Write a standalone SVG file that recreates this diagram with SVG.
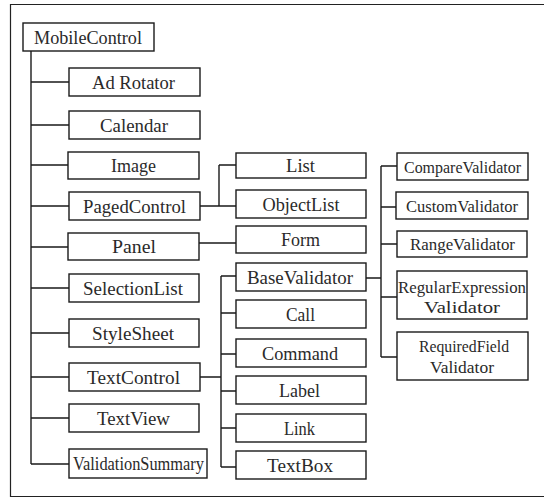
<svg xmlns="http://www.w3.org/2000/svg" width="544" height="498" viewBox="0 0 544 498">
  <style>
    .box { fill: #fff; stroke: #1a1a1a; stroke-width: 1.4; }
    .wire { fill: none; stroke: #1a1a1a; stroke-width: 1.4; }
    .frame { fill: none; stroke: #222; stroke-width: 1.2; }
    .lbl { font-family: 'Liberation Serif', 'Times New Roman', serif; font-size: 18px; font-weight: normal; fill: #2a2a2a; text-anchor: middle; }
    .sm { font-size: 17px; }
  </style>
  <rect width="544" height="498" fill="#fff"/>
  <!-- open frame (top, left, bottom) -->
  <path class="frame" d="M544 4.5 H10.5 V496.5 H544"/>

  <!-- connectors -->
  <g id="connectors">
    <path class="wire" d="M31 51 V464"/>
    <path class="wire" d="M31 82 H69 M31 125 H69 M31 165 H69 M31 206 H69 M31 247 H69 M31 288 H69 M31 333 H69 M31 377 H69 M31 418 H69 M31 464 H69"/>
    <path class="wire" d="M200 206 H219 M219 165 V206 M219 165 H236 M219 206 H236"/>
    <path class="wire" d="M199 243 H236"/>
    <path class="wire" d="M200 377 H221 M221 276 V467 M221 276 H236 M221 313 H236 M221 354 H236 M221 391 H236 M221 428 H236 M221 467 H236"/>
    <path class="wire" d="M366 278 H381 M381 166 V357 M381 166 H397 M381 207 H397 M381 244 H397 M381 297 H397 M381 357 H397"/>
  </g>

  <g id="MobileControl"><rect class="box" x="23" y="23" width="131" height="28"/><text class="lbl" x="88" y="44" textLength="108" lengthAdjust="spacingAndGlyphs">MobileControl</text></g>

  <g id="AdRotator"><rect class="box" x="69" y="68" width="131" height="28"/><text class="lbl" x="133.5" y="89" textLength="83" lengthAdjust="spacingAndGlyphs">Ad Rotator</text></g>
  <g id="Calendar"><rect class="box" x="69" y="111" width="131" height="28"/><text class="lbl" x="134" y="132" textLength="68" lengthAdjust="spacingAndGlyphs">Calendar</text></g>
  <g id="Image"><rect class="box" x="68" y="152" width="131" height="27"/><text class="lbl" x="133.5" y="172" textLength="45" lengthAdjust="spacingAndGlyphs">Image</text></g>
  <g id="PagedControl"><rect class="box" x="69" y="192" width="131" height="28"/><text class="lbl" x="134.5" y="213" textLength="103" lengthAdjust="spacingAndGlyphs">PagedControl</text></g>
  <g id="Panel"><rect class="box" x="68" y="233" width="131" height="27"/><text class="lbl" x="134" y="253" textLength="44" lengthAdjust="spacingAndGlyphs">Panel</text></g>
  <g id="SelectionList"><rect class="box" x="69" y="274" width="130" height="28"/><text class="lbl" x="133" y="295" textLength="100" lengthAdjust="spacingAndGlyphs">SelectionList</text></g>
  <g id="StyleSheet"><rect class="box" x="69" y="319" width="130" height="28"/><text class="lbl" x="133" y="340" textLength="82" lengthAdjust="spacingAndGlyphs">StyleSheet</text></g>
  <g id="TextControl"><rect class="box" x="69" y="363" width="131" height="28"/><text class="lbl" x="133.5" y="384" textLength="93" lengthAdjust="spacingAndGlyphs">TextControl</text></g>
  <g id="TextView"><rect class="box" x="69" y="404" width="130" height="28"/><text class="lbl" x="133.5" y="425" textLength="73" lengthAdjust="spacingAndGlyphs">TextView</text></g>
  <g id="ValidationSummary"><rect class="box" x="69" y="449" width="138" height="29"/><text class="lbl" x="138.5" y="470" textLength="131" lengthAdjust="spacingAndGlyphs">ValidationSummary</text></g>

  <g id="List"><rect class="box" x="236" y="153" width="130" height="25"/><text class="lbl" x="300.5" y="172" textLength="29" lengthAdjust="spacingAndGlyphs">List</text></g>
  <g id="ObjectList"><rect class="box" x="236" y="190" width="130" height="28"/><text class="lbl" x="301" y="211" textLength="77" lengthAdjust="spacingAndGlyphs">ObjectList</text></g>
  <g id="Form"><rect class="box" x="236" y="226" width="130" height="27"/><text class="lbl" x="300.5" y="246" textLength="39" lengthAdjust="spacingAndGlyphs">Form</text></g>
  <g id="BaseValidator"><rect class="box" x="236" y="263" width="130" height="28"/><text class="lbl" x="300" y="284" textLength="106" lengthAdjust="spacingAndGlyphs">BaseValidator</text></g>
  <g id="Call"><rect class="box" x="236" y="300" width="130" height="28"/><text class="lbl" x="300.5" y="321" textLength="29" lengthAdjust="spacingAndGlyphs">Call</text></g>
  <g id="Command"><rect class="box" x="236" y="339" width="130" height="28"/><text class="lbl" x="300" y="360" textLength="76" lengthAdjust="spacingAndGlyphs">Command</text></g>
  <g id="Label"><rect class="box" x="236" y="376" width="130" height="28"/><text class="lbl" x="299.5" y="397" textLength="41" lengthAdjust="spacingAndGlyphs">Label</text></g>
  <g id="Link"><rect class="box" x="236" y="414" width="130" height="28"/><text class="lbl" x="299.5" y="435" textLength="31" lengthAdjust="spacingAndGlyphs">Link</text></g>
  <g id="TextBox"><rect class="box" x="236" y="451" width="130" height="28"/><text class="lbl" x="300" y="472" textLength="66" lengthAdjust="spacingAndGlyphs">TextBox</text></g>

  <g id="CompareValidator"><rect class="box" x="397" y="153" width="131" height="27"/><text class="lbl sm" x="462.5" y="173" textLength="117" lengthAdjust="spacingAndGlyphs">CompareValidator</text></g>
  <g id="CustomValidator"><rect class="box" x="396" y="192" width="132" height="27"/><text class="lbl sm" x="462" y="212" textLength="112" lengthAdjust="spacingAndGlyphs">CustomValidator</text></g>
  <g id="RangeValidator"><rect class="box" x="397" y="231" width="130" height="26"/><text class="lbl sm" x="462.5" y="250" textLength="105" lengthAdjust="spacingAndGlyphs">RangeValidator</text></g>
  <g id="RegularExpressionValidator"><rect class="box" x="397" y="271" width="130" height="48"/><text class="lbl sm" x="462" y="293" textLength="128" lengthAdjust="spacingAndGlyphs">RegularExpression</text><text class="lbl sm" x="462" y="313" textLength="76" lengthAdjust="spacingAndGlyphs">Validator</text></g>
  <g id="RequiredFieldValidator"><rect class="box" x="397" y="332" width="131" height="48"/><text class="lbl sm" x="464" y="352" textLength="90" lengthAdjust="spacingAndGlyphs">RequiredField</text><text class="lbl sm" x="462" y="373" textLength="64" lengthAdjust="spacingAndGlyphs">Validator</text></g>
</svg>
